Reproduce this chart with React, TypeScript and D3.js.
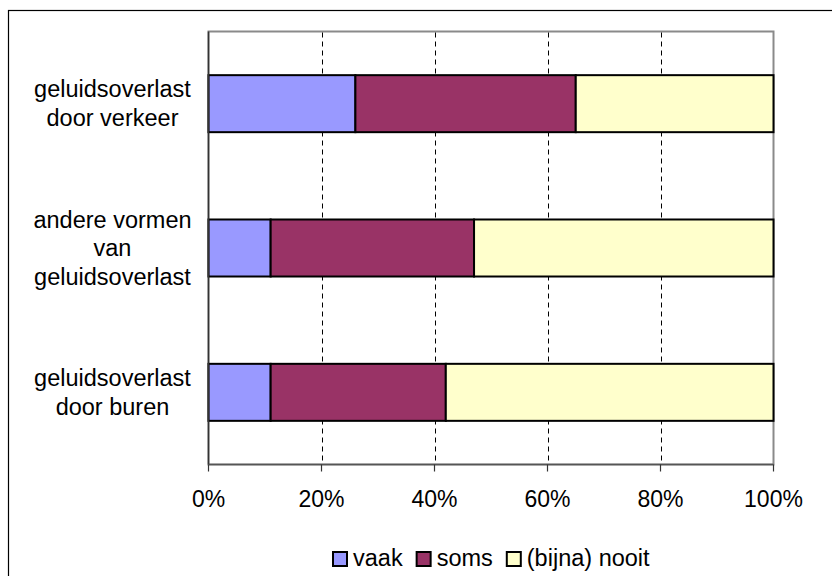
import React, { useEffect, useRef } from 'react';
import * as d3 from 'd3';

// categories top -> bottom, each label split into lines
const categories = [
  'geluidsoverlast door verkeer',
  'andere vormen van geluidsoverlast',
  'geluidsoverlast door buren'
];
const categoryLines = [
  ['geluidsoverlast', 'door verkeer'],
  ['andere vormen', 'van', 'geluidsoverlast'],
  ['geluidsoverlast', 'door buren']
];

const seriesNames = ['vaak', 'soms', '(bijna) nooit'];
const vaak = [26, 11, 11];
const soms = [39, 36, 31];
const nooit = [35, 53, 58];
const seriesColors = ['#9999FF', '#993366', '#FFFFCC'];

const xTicks = [0, 20, 40, 60, 80, 100];

const FONT = "'Liberation Sans', Arial, sans-serif";

const App: React.FC = () => {
  const ref = useRef<SVGSVGElement>(null);

  useEffect(() => {
    if (!ref.current) return;
    const svg = d3.select(ref.current);
    svg.selectAll('*').remove();

    const plot = { left: 208.5, right: 773.5, top: 31.5, bottom: 464.5 };

    const x = d3.scaleLinear().domain([0, 100]).range([plot.left, plot.right]);
    const y = d3.scaleBand<string>()
      .domain(categories)
      .range([plot.top, plot.bottom])
      .paddingInner(0.605)
      .paddingOuter(0.3025);

    // outer frame (runs off the right and bottom edge)
    svg.append('rect')
      .attr('x', 8.5).attr('y', 10.5)
      .attr('width', 900).attr('height', 700)
      .attr('fill', 'white').attr('stroke', '#000').attr('stroke-width', 1.2);

    // plot border
    svg.append('rect')
      .attr('x', plot.left).attr('y', plot.top)
      .attr('width', plot.right - plot.left).attr('height', plot.bottom - plot.top)
      .attr('fill', 'none').attr('stroke', '#8a8a8a').attr('stroke-width', 2);

    // dashed gridlines
    svg.selectAll('line.grid')
      .data(xTicks.filter(t => t > 0 && t < 100))
      .enter().append('line')
      .attr('class', 'grid')
      .attr('x1', d => Math.round(x(d)) + 0.5).attr('x2', d => Math.round(x(d)) + 0.5)
      .attr('y1', plot.top + 1).attr('y2', plot.bottom - 1)
      .attr('stroke', '#000').attr('stroke-width', 1)
      .attr('stroke-dasharray', '5,4');

    // stacked bars
    const series = [vaak, soms, nooit];
    categories.forEach((c, i) => {
      let acc = 0;
      series.forEach((s, k) => {
        const v = s[i];
        svg.append('rect')
          .attr('x', x(acc)).attr('y', y(c)!)
          .attr('width', x(acc + v) - x(acc)).attr('height', y.bandwidth())
          .attr('fill', seriesColors[k])
          .attr('stroke', '#000').attr('stroke-width', 2);
        acc += v;
      });
    });

    // left axis line
    svg.append('line')
      .attr('x1', plot.left).attr('x2', plot.left)
      .attr('y1', plot.top).attr('y2', plot.bottom)
      .attr('stroke', '#333').attr('stroke-width', 1.5);

    // bottom axis line + ticks
    svg.append('line')
      .attr('x1', plot.left).attr('x2', plot.right)
      .attr('y1', plot.bottom).attr('y2', plot.bottom)
      .attr('stroke', '#555').attr('stroke-width', 1.5);

    svg.selectAll('line.tick')
      .data(xTicks)
      .enter().append('line')
      .attr('class', 'tick')
      .attr('x1', d => x(d)).attr('x2', d => x(d))
      .attr('y1', plot.bottom).attr('y2', plot.bottom + 7)
      .attr('stroke', '#333').attr('stroke-width', 1.2);

    svg.selectAll('text.tickl')
      .data(xTicks)
      .enter().append('text')
      .attr('class', 'tickl')
      .attr('x', d => x(d)).attr('y', 506.5)
      .attr('text-anchor', 'middle')
      .attr('font-family', FONT).attr('font-size', 23).attr('fill', '#000')
      .text(d => `${d}%`);

    // category labels
    categories.forEach((c, i) => {
      const lines = categoryLines[i];
      const cy = y(c)! + y.bandwidth() / 2;
      lines.forEach((ln, j) => {
        svg.append('text')
          .attr('x', 112.5)
          .attr('y', cy + (j - (lines.length - 1) / 2) * 28.5 + 8)
          .attr('text-anchor', 'middle')
          .attr('font-family', FONT).attr('font-size', 23.5).attr('fill', '#000')
          .text(ln);
      });
    });

    // legend
    const legend = svg.append('g');
    let lx = 333;
    seriesNames.forEach((name, k) => {
      legend.append('rect')
        .attr('x', lx).attr('y', 552)
        .attr('width', 14).attr('height', 14)
        .attr('fill', seriesColors[k]).attr('stroke', '#000').attr('stroke-width', 2);
      const t = legend.append('text')
        .attr('x', lx + 20).attr('y', 566)
        .attr('font-family', FONT).attr('font-size', 23.5).attr('fill', '#000')
        .text(name);
      const w = (t.node() as SVGTextElement).getComputedTextLength();
      lx += 20 + w + 14;
    });
  }, []);

  return (
    <svg
      ref={ref}
      width={832}
      height={576}
      style={{ position: 'absolute', left: 0, top: 0, background: '#fff' }}
    />
  );
};

export default App;
